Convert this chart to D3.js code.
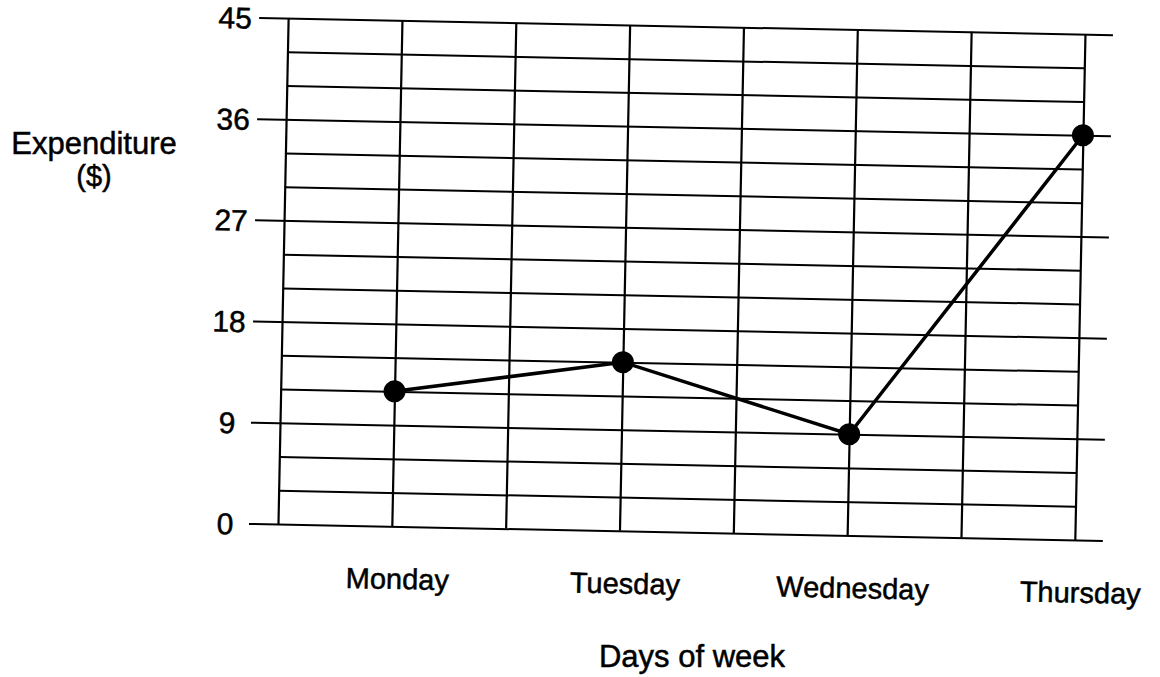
<!DOCTYPE html>
<html>
<head>
<meta charset="utf-8">
<script src="https://cdn.jsdelivr.net/npm/d3@7"></script>
<style>
  body { margin: 0; background: #fff; }
  text { font-family: "Liberation Sans", Arial, sans-serif; fill: #000; stroke: #000; stroke-width: 0.5px; }
</style>
</head>
<body>
<script>
const days = ["Monday", "Tuesday", "Wednesday", "Thursday"];
const spent = [12, 15, 9, 36];
const majorTicks = [0, 9, 18, 27, 36, 45];
const minorTicks = [3, 6, 12, 15, 21, 24, 30, 33, 39, 42];
const columnLines = [-0.5, 0, 0.5, 1, 1.5, 2, 2.5, 3];

const W = 1160, H = 677;

const svg = d3.select('body').append('svg').attr('width', W).attr('height', H);

// x in "day index" units, the grid has a half-day column on each line
const x = d3.scaleLinear().domain([-0.5, 3]).range([283, 1080]);
const y = d3.scaleLinear().domain([0, 45]).range([532, 26]);

// the source is a slightly tilted scan
const g = svg.append('g').attr('transform', 'rotate(1.15, 680, 278)');

const left = x(-0.5), right = x(3);

// minor grid lines only span the grid
g.append('g')
  .attr('transform', `translate(${left},0)`)
  .call(d3.axisLeft(y).tickValues(minorTicks).tickSize(-(right - left)).tickFormat(''))
  .call(a => a.select('.domain').remove())
  .call(a => a.selectAll('line').attr('stroke', '#000').attr('stroke-width', 2));

// major lines stick out on both sides and carry labels (labels are centred)
g.append('g')
  .attr('transform', `translate(${left - 29},0)`)
  .call(d3.axisLeft(y).tickValues(majorTicks).tickSize(-(right - left + 57)).tickSizeOuter(0))
  .call(a => a.select('.domain').remove())
  .call(a => a.selectAll('line').attr('stroke', '#000').attr('stroke-width', 2))
  .call(a => a.selectAll('text')
    .attr('font-size', '30px')
    .attr('text-anchor', 'middle')
    .attr('x', -24)
    .attr('dy', '0.36em'));

// vertical grid lines
g.append('g')
  .attr('transform', `translate(0,${y(0)})`)
  .call(d3.axisBottom(x).tickValues(columnLines).tickSize(-(y(0) - y(45))).tickFormat(''))
  .call(a => a.select('.domain').remove())
  .call(a => a.selectAll('line').attr('stroke', '#000').attr('stroke-width', 2.2));

// day labels
g.append('g')
  .attr('transform', `translate(6,${y(0)})`)
  .call(d3.axisBottom(x).tickValues(d3.range(days.length)).tickSize(0).tickPadding(42).tickFormat(i => days[i]))
  .call(a => a.select('.domain').remove())
  .call(a => a.selectAll('text').attr('font-size', '29px'));

// the line and its dots
const line = d3.line().x((d, i) => x(i)).y(d => y(d));
g.append('path')
  .datum(spent)
  .attr('d', line)
  .attr('fill', 'none')
  .attr('stroke', '#000')
  .attr('stroke-width', 3.5);

g.selectAll('circle')
  .data(spent)
  .enter().append('circle')
  .attr('cx', (d, i) => x(i))
  .attr('cy', d => y(d))
  .attr('r', 11)
  .attr('fill', '#000');

// axis titles
svg.append('text')
  .attr('x', 94).attr('y', 154)
  .attr('text-anchor', 'middle')
  .attr('font-size', '31px')
  .text('Expenditure');

svg.append('text')
  .attr('x', 94).attr('y', 186)
  .attr('text-anchor', 'middle')
  .attr('font-size', '29px')
  .text('($)');

svg.append('text')
  .attr('x', 692).attr('y', 667)
  .attr('text-anchor', 'middle')
  .attr('font-size', '31px')
  .text('Days of week');
</script>
</body>
</html>
